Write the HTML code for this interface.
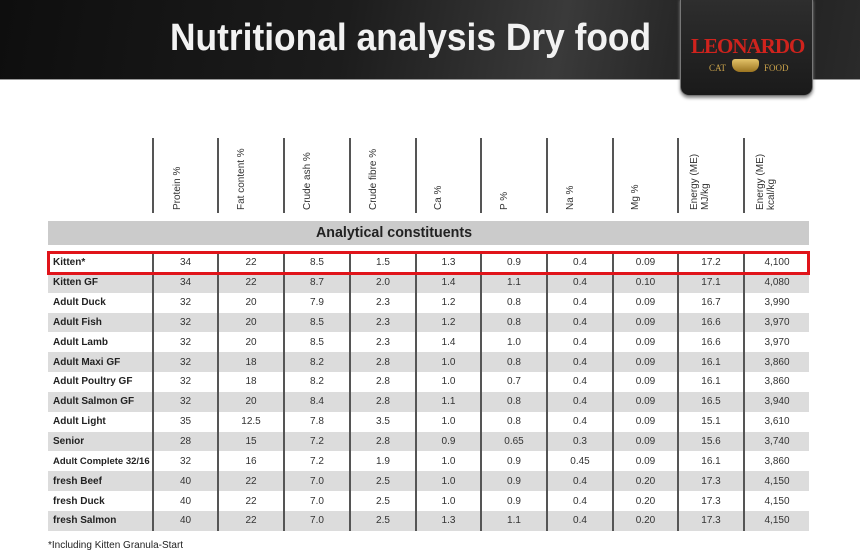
<!DOCTYPE html>
<html><head><style>
body{margin:0;width:860px;height:559px;background:#fff;position:relative;overflow:hidden;font-family:"Liberation Sans",Arial,sans-serif}
.hdr{position:absolute;left:0;top:0;width:860px;height:79px;background:linear-gradient(100deg,#0e0e0e 0%,#1c1c1c 40%,#3a3a3a 65%,#1e1e1e 85%,#2a2a2a 100%);border-bottom:1px solid #999}
.title{position:absolute;left:170px;top:17px;font-size:38px;font-weight:bold;color:#f2f2f2;transform:scaleX(0.93);transform-origin:left;white-space:nowrap}
.logo{position:absolute;left:680px;top:-2px;width:131px;height:96px;background:linear-gradient(#2e2e2e,#1a1a1a);border:1px solid #777;border-radius:0 0 9px 9px;box-shadow:0 2px 3px #888}
.logo .n{position:absolute;left:10px;top:35px;font-family:"Liberation Serif",serif;font-weight:bold;color:#d0231d;font-size:21px;letter-spacing:-1px}
.logo .c{position:absolute;top:64px;font-family:"Liberation Serif",serif;color:#c9a24a;font-size:9px}
.logo .bowl{position:absolute;left:51px;top:60px;width:27px;height:13px;background:linear-gradient(#e4c46a,#9b7420);border-radius:3px 3px 8px 8px}
.vl{position:absolute;top:138px;width:2px;height:75px;background:#555}
.hl{position:absolute;font-size:10px;color:#333;transform:rotate(-90deg);transform-origin:left top;white-space:nowrap;line-height:11px}
.band{position:absolute;left:48px;top:221px;width:761px;height:24px;background:#cbcbcb;font-weight:bold;font-size:15px;color:#222;line-height:24px}
.band span{position:absolute;left:268px;top:0;transform:scaleX(0.95);transform-origin:left}
table{position:absolute;left:48px;top:253px;border-collapse:collapse;width:761px;table-layout:fixed}
td{height:19.85px;padding:0;font-size:10px;color:#333;text-align:center;border-left:2px solid #555;box-sizing:border-box;white-space:nowrap;overflow:hidden}
td:first-child{border-left:none;text-align:left;padding-left:5px;font-weight:bold;color:#222}
tr:nth-child(even) td{background:#dcdcdc}
.red{position:absolute;left:47px;top:251px;width:757px;height:18px;border:3px solid #e0141a}
.fn{position:absolute;left:48px;top:540px;font-size:10px;color:#222}
</style></head><body>
<div class="hdr"><div class="title">Nutritional analysis Dry food</div></div>
<div class="logo"><div class="n">LEONARDO</div><div class="c" style="left:28px">CAT</div><div class="bowl"></div><div class="c" style="left:83px">FOOD</div></div>
<div class="vl" style="left:152px"></div><div class="vl" style="left:217px"></div><div class="vl" style="left:283px"></div><div class="vl" style="left:349px"></div><div class="vl" style="left:415px"></div><div class="vl" style="left:480px"></div><div class="vl" style="left:546px"></div><div class="vl" style="left:612px"></div><div class="vl" style="left:677px"></div><div class="vl" style="left:743px"></div>
<div class="hl" style="left:172px;top:210px">Protein %</div>
<div class="hl" style="left:236px;top:210px">Fat content %</div>
<div class="hl" style="left:302px;top:210px">Crude ash %</div>
<div class="hl" style="left:368px;top:210px">Crude fibre %</div>
<div class="hl" style="left:433px;top:210px">Ca %</div>
<div class="hl" style="left:499px;top:210px">P %</div>
<div class="hl" style="left:565px;top:210px">Na %</div>
<div class="hl" style="left:630px;top:210px">Mg %</div>
<div class="hl" style="left:689px;top:210px">Energy (ME)<br>MJ/kg</div>
<div class="hl" style="left:755px;top:210px">Energy (ME)<br>kcal/kg</div>
<div class="band"><span>Analytical constituents</span></div>
<table>
<colgroup><col style="width:105px"><col style="width:65px"><col style="width:66px"><col style="width:66px"><col style="width:66px"><col style="width:65px"><col style="width:66px"><col style="width:66px"><col style="width:65px"><col style="width:66px"><col style="width:65px"></colgroup>
<tr><td>Kitten*</td><td>34</td><td>22</td><td>8.5</td><td>1.5</td><td>1.3</td><td>0.9</td><td>0.4</td><td>0.09</td><td>17.2</td><td>4,100</td></tr>
<tr><td>Kitten GF</td><td>34</td><td>22</td><td>8.7</td><td>2.0</td><td>1.4</td><td>1.1</td><td>0.4</td><td>0.10</td><td>17.1</td><td>4,080</td></tr>
<tr><td>Adult Duck</td><td>32</td><td>20</td><td>7.9</td><td>2.3</td><td>1.2</td><td>0.8</td><td>0.4</td><td>0.09</td><td>16.7</td><td>3,990</td></tr>
<tr><td>Adult Fish</td><td>32</td><td>20</td><td>8.5</td><td>2.3</td><td>1.2</td><td>0.8</td><td>0.4</td><td>0.09</td><td>16.6</td><td>3,970</td></tr>
<tr><td>Adult Lamb</td><td>32</td><td>20</td><td>8.5</td><td>2.3</td><td>1.4</td><td>1.0</td><td>0.4</td><td>0.09</td><td>16.6</td><td>3,970</td></tr>
<tr><td>Adult Maxi GF</td><td>32</td><td>18</td><td>8.2</td><td>2.8</td><td>1.0</td><td>0.8</td><td>0.4</td><td>0.09</td><td>16.1</td><td>3,860</td></tr>
<tr><td>Adult Poultry GF</td><td>32</td><td>18</td><td>8.2</td><td>2.8</td><td>1.0</td><td>0.7</td><td>0.4</td><td>0.09</td><td>16.1</td><td>3,860</td></tr>
<tr><td>Adult Salmon GF</td><td>32</td><td>20</td><td>8.4</td><td>2.8</td><td>1.1</td><td>0.8</td><td>0.4</td><td>0.09</td><td>16.5</td><td>3,940</td></tr>
<tr><td>Adult Light</td><td>35</td><td>12.5</td><td>7.8</td><td>3.5</td><td>1.0</td><td>0.8</td><td>0.4</td><td>0.09</td><td>15.1</td><td>3,610</td></tr>
<tr><td>Senior</td><td>28</td><td>15</td><td>7.2</td><td>2.8</td><td>0.9</td><td>0.65</td><td>0.3</td><td>0.09</td><td>15.6</td><td>3,740</td></tr>
<tr><td style="font-size:9.5px">Adult Complete 32/16</td><td>32</td><td>16</td><td>7.2</td><td>1.9</td><td>1.0</td><td>0.9</td><td>0.45</td><td>0.09</td><td>16.1</td><td>3,860</td></tr>
<tr><td>fresh Beef</td><td>40</td><td>22</td><td>7.0</td><td>2.5</td><td>1.0</td><td>0.9</td><td>0.4</td><td>0.20</td><td>17.3</td><td>4,150</td></tr>
<tr><td>fresh Duck</td><td>40</td><td>22</td><td>7.0</td><td>2.5</td><td>1.0</td><td>0.9</td><td>0.4</td><td>0.20</td><td>17.3</td><td>4,150</td></tr>
<tr><td>fresh Salmon</td><td>40</td><td>22</td><td>7.0</td><td>2.5</td><td>1.3</td><td>1.1</td><td>0.4</td><td>0.20</td><td>17.3</td><td>4,150</td></tr>
</table>
<div class="red"></div>
<div class="fn">*Including Kitten Granula-Start</div>
</body></html>
